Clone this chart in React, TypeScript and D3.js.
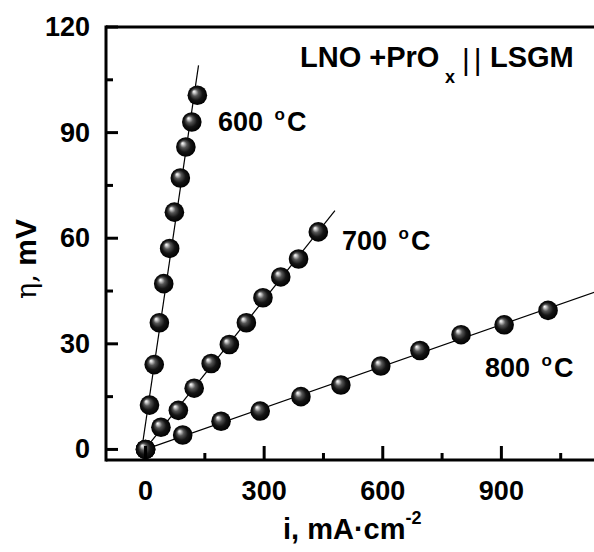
import React from "react";
import * as d3 from "d3";

const W = 594;
const H = 552;

// current density, mA/cm2 and overpotential, mV
const i600 = [0, 10, 22, 35, 46, 61, 73, 88, 102, 117, 131];
const eta600 = [0, 12.6, 24.1, 36.0, 47.1, 57.1, 67.4, 77.1, 85.9, 93.0, 100.6];
const i700 = [0, 39, 83, 123, 166, 212, 255, 297, 342, 387, 437];
const eta700 = [0, 6.3, 11.1, 17.4, 24.4, 29.8, 36.0, 43.1, 49.0, 54.1, 61.8];
const i800 = [0, 94, 191, 290, 393, 494, 595, 694, 798, 907, 1018];
const eta800 = [0, 4.1, 8.0, 10.9, 15.0, 18.3, 23.7, 28.1, 32.6, 35.4, 39.5];

const seriesNames = ["600", "700", "800"];
const fitEnds = [134, 479, 1250];

const xTicksMajor = [0, 300, 600, 900];
const xTicksMinor = [150, 450, 750, 1050];
const yTicksMajor = [0, 30, 60, 90, 120];
const yTicksMinor = [15, 45, 75, 105];

const FONT = "Arial, 'Liberation Sans', Helvetica, sans-serif";

function fit(xs: number[], ys: number[]) {
  const mx = d3.mean(xs)!;
  const my = d3.mean(ys)!;
  let sxy = 0, sxx = 0;
  xs.forEach((x, k) => { sxy += (x - mx) * (ys[k] - my); sxx += (x - mx) * (x - mx); });
  const b = sxy / sxx;
  return { b, a: my - b * mx };
}

export default function App() {
  const x = d3.scaleLinear().domain([-100, 1200]).range([106, 620]);
  const y = d3.scaleLinear().domain([-3, 120]).range([460, 27]);

  const series = [
    { name: seriesNames[0], xs: i600, ys: eta600, end: fitEnds[0] },
    { name: seriesNames[1], xs: i700, ys: eta700, end: fitEnds[1] },
    { name: seriesNames[2], xs: i800, ys: eta800, end: fitEnds[2] },
  ];

  const line = d3.line<[number, number]>().x(d => x(d[0])).y(d => y(d[1]));

  const labelPos = [
    { x: 218, y: 131 },
    { x: 342, y: 250 },
    { x: 485, y: 377 },
  ];

  return (
    <svg width={W} height={H} style={{ position: "absolute", left: 0, top: 0, background: "#fff" }} fontFamily={FONT}>
      <defs>
        <radialGradient id="ball" cx="50%" cy="50%" r="50%" fx="32%" fy="30%">
          <stop offset="0%" stopColor="#ffffff" />
          <stop offset="12%" stopColor="#d0d0d0" />
          <stop offset="35%" stopColor="#555" />
          <stop offset="65%" stopColor="#151515" />
          <stop offset="100%" stopColor="#000" />
        </radialGradient>
        <clipPath id="plot">
          <rect x={106} y={27} width={600} height={433} />
        </clipPath>
      </defs>

      {/* fit lines */}
      <g clipPath="url(#plot)">
        {series.map(s => {
          const f = fit(s.xs, s.ys);
          const x0 = Math.min(0, -f.a / f.b);
          const pts: [number, number][] = [[x0, f.a + f.b * x0], [s.end, f.a + f.b * s.end]];
          return <path key={s.name} d={line(pts)!} stroke="#000" strokeWidth={1.2} fill="none" />;
        })}
      </g>

      {/* markers */}
      {series.map(s => (
        <g key={"m" + s.name}>
          {s.xs.map((v, k) => (
            <circle key={k} cx={x(v)} cy={y(s.ys[k])} r={9.8} fill="url(#ball)" />
          ))}
        </g>
      ))}

      {/* axes */}
      <line x1={106} x2={W} y1={27} y2={27} stroke="#000" strokeWidth={3} />
      <line x1={106} x2={W} y1={460} y2={460} stroke="#000" strokeWidth={3} />
      <line x1={106} x2={106} y1={25.5} y2={461.5} stroke="#000" strokeWidth={3} />

      {yTicksMajor.map(t => (
        <g key={"ym" + t}>
          <line x1={106} x2={118} y1={y(t)} y2={y(t)} stroke="#000" strokeWidth={3} />
          <text x={90} y={y(t)} textAnchor="end" dominantBaseline="central" fontSize={27} fontWeight="bold">{t}</text>
        </g>
      ))}
      {yTicksMinor.map(t => (
        <line key={"yn" + t} x1={106} x2={113} y1={y(t)} y2={y(t)} stroke="#000" strokeWidth={3} />
      ))}
      {xTicksMajor.map(t => (
        <g key={"xm" + t}>
          <line x1={x(t)} x2={x(t)} y1={460} y2={446} stroke="#000" strokeWidth={3} />
          <text x={x(t)} y={500} textAnchor="middle" fontSize={27} fontWeight="bold">{t}</text>
        </g>
      ))}
      {xTicksMinor.map(t => (
        <line key={"xn" + t} x1={x(t)} x2={x(t)} y1={460} y2={453} stroke="#000" strokeWidth={3} />
      ))}

      {/* axis titles */}
      <text x={283} y={539} fontSize={29} fontWeight="bold">
        i, mA·cm<tspan fontSize={18} dy={-15}>-2</tspan>
      </text>
      <text transform="translate(36,259) rotate(-90)" textAnchor="middle" fontSize={30}>
        <tspan fontFamily="'DejaVu Serif', 'Liberation Serif', serif" fontSize={27}>η,</tspan>
        <tspan fontWeight="bold"> mV</tspan>
      </text>

      {/* series labels */}
      {series.map((s, k) => (
        <text key={"l" + s.name} x={labelPos[k].x} y={labelPos[k].y} fontSize={27} fontWeight="bold">
          {s.name + " "}
          <tspan fontSize={17} dx={4} dy={-11}>o</tspan>
          <tspan dx={2} dy={11}>C</tspan>
        </text>
      ))}

      {/* sample title */}
      <text x={300} y={67} fontSize={29} fontWeight="bold">LNO +PrO</text>
      <text x={445} y={83} fontSize={18} fontWeight="bold">x</text>
      <text x={462} y={70} fontSize={30} letterSpacing={4}>||</text>
      <text x={490} y={67} fontSize={29} fontWeight="bold">LSGM</text>
    </svg>
  );
}
